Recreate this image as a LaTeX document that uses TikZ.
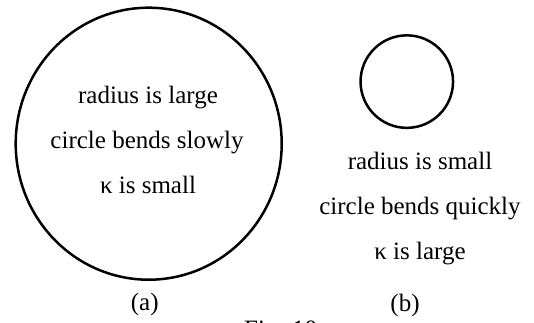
\documentclass[tikz,border=0pt]{standalone}
\usepackage{fontspec}
\setmainfont{Liberation Serif}
\begin{document}
\begin{tikzpicture}[x=1pt,y=-1pt,
  lbl/.style={inner sep=0pt,anchor=base,font=\fontsize{25}{30}\selectfont},
  ring/.style={line width=2.5pt,draw=black}]
\useasboundingbox (0,0) rectangle (534,322);
\draw[ring] (148.7,143.7) ellipse [x radius=133, y radius=136];
\node[ring,circle,minimum size=92.5pt,inner sep=0pt] (small) at (406.8,81.6) {};
\node[lbl] (a1) at (148,103) {radius is large};
\node[lbl] (a2) at (147,148) {circle bends slowly};
\node[lbl] (a3) at (148,193) {κ is small};
\node[lbl] (b1) at (420,169) {radius is small};
\node[lbl] (b2) at (420,214) {circle bends quickly};
\node[lbl] (b3) at (420,259) {κ is large};
\node[lbl] (la) at (144.7,310) {(a)};
\node[lbl] (lb) at (405,311.5) {(b)};
\node[lbl,anchor=base west] (fig) at (244,337) {Fig. 10};
\end{tikzpicture}
\end{document}
